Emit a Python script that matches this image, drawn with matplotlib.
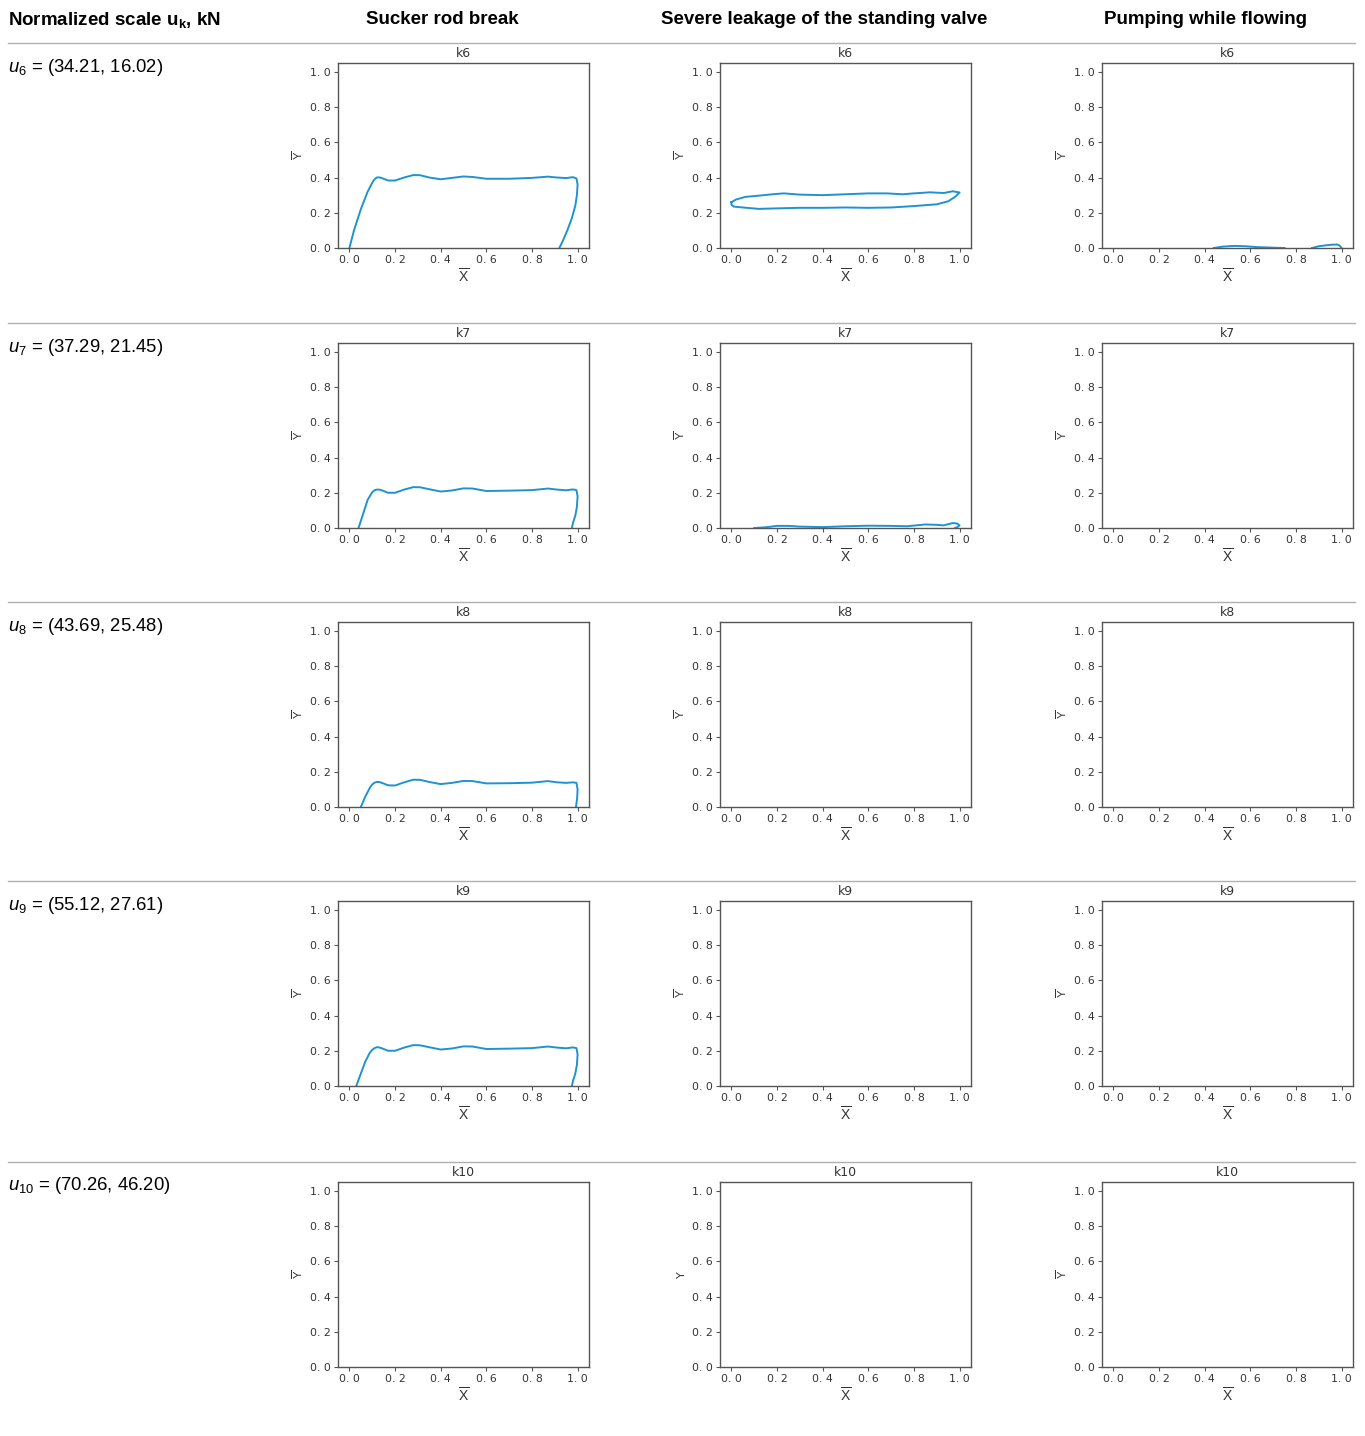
import matplotlib
matplotlib.use("Agg")
import matplotlib.pyplot as plt
from matplotlib.lines import Line2D
from matplotlib.ticker import FuncFormatter

plt.rcParams['mathtext.fontset'] = 'custom'
plt.rcParams['mathtext.rm'] = 'Liberation Sans'
plt.rcParams['mathtext.it'] = 'Liberation Sans:italic'
plt.rcParams['mathtext.bf'] = 'Liberation Sans:bold'

columns = ["Sucker rod break", "Severe leakage of the standing valve", "Pumping while flowing"]
scale_names = ["k6", "k7", "k8", "k9", "k10"]
scale_labels = [r"$u_{6}$ = (34.21, 16.02)", r"$u_{7}$ = (37.29, 21.45)",
                r"$u_{8}$ = (43.69, 25.48)", r"$u_{9}$ = (55.12, 27.61)",
                r"$u_{10}$ = (70.26, 46.20)"]
ticks = [0.0, 0.2, 0.4, 0.6, 0.8, 1.0]

# dynamometer cards, (x, y) normalised
rod_k6_x = [0.00, 0.02, 0.05, 0.08, 0.10, 0.11, 0.12, 0.13, 0.14, 0.17, 0.20, 0.24, 0.28, 0.31, 0.35,
            0.40, 0.45, 0.50, 0.54, 0.60, 0.70, 0.80, 0.87, 0.91, 0.95, 0.98, 0.995, 1.00, 0.997,
            0.99, 0.975, 0.955, 0.935, 0.92]
rod_k6_y = [0.00, 0.10, 0.22, 0.32, 0.37, 0.39, 0.40, 0.401, 0.398, 0.383, 0.383, 0.400, 0.414, 0.413,
            0.400, 0.390, 0.398, 0.406, 0.403, 0.393, 0.393, 0.398, 0.405, 0.400, 0.397, 0.402, 0.395,
            0.36, 0.30, 0.24, 0.17, 0.10, 0.04, 0.00]

rod_k7_x = [0.04, 0.06, 0.08, 0.10, 0.11, 0.12, 0.13, 0.14, 0.17, 0.20, 0.24, 0.28, 0.31, 0.35, 0.40,
            0.45, 0.50, 0.54, 0.60, 0.70, 0.80, 0.87, 0.91, 0.95, 0.98, 0.995, 1.00, 0.997, 0.99, 0.98,
            0.975]
rod_k7_y = [0.00, 0.08, 0.16, 0.203, 0.214, 0.218, 0.218, 0.215, 0.200, 0.200, 0.218, 0.232, 0.231,
            0.220, 0.207, 0.213, 0.225, 0.224, 0.210, 0.212, 0.215, 0.224, 0.218, 0.214, 0.219, 0.215,
            0.18, 0.12, 0.07, 0.03, 0.00]

rod_k8_x = [0.05, 0.07, 0.09, 0.10, 0.11, 0.12, 0.13, 0.14, 0.17, 0.20, 0.24, 0.28, 0.31, 0.35, 0.40,
            0.45, 0.50, 0.54, 0.60, 0.70, 0.80, 0.87, 0.91, 0.95, 0.98, 0.995, 1.00, 0.998, 0.993]
rod_k8_y = [0.00, 0.06, 0.11, 0.128, 0.138, 0.142, 0.142, 0.138, 0.123, 0.122, 0.140, 0.155, 0.154,
            0.142, 0.130, 0.137, 0.148, 0.147, 0.134, 0.135, 0.138, 0.147, 0.140, 0.137, 0.140, 0.137,
            0.10, 0.05, 0.00]

rod_k9_x = [0.03, 0.05, 0.07, 0.09, 0.10, 0.11, 0.12, 0.13, 0.14, 0.17, 0.20, 0.24, 0.28, 0.31, 0.35,
            0.40, 0.45, 0.50, 0.54, 0.60, 0.70, 0.80, 0.87, 0.91, 0.95, 0.98, 0.995, 1.00, 0.997, 0.99,
            0.98, 0.975]
rod_k9_y = [0.00, 0.07, 0.14, 0.19, 0.205, 0.215, 0.220, 0.219, 0.215, 0.200, 0.200, 0.218, 0.232,
            0.231, 0.220, 0.207, 0.213, 0.225, 0.224, 0.210, 0.212, 0.215, 0.224, 0.218, 0.214, 0.219,
            0.215, 0.18, 0.12, 0.07, 0.03, 0.00]

leak_k6_x = [0.00, 0.02, 0.06, 0.12, 0.18, 0.23, 0.30, 0.40, 0.50, 0.60, 0.68, 0.75, 0.80, 0.87, 0.93,
             0.97, 1.00, 0.98, 0.95, 0.90, 0.80, 0.70, 0.60, 0.50, 0.40, 0.30, 0.20, 0.12, 0.05, 0.01,
             0.00, 0.00]
leak_k6_y = [0.26, 0.275, 0.29, 0.297, 0.305, 0.310, 0.303, 0.300, 0.305, 0.310, 0.310, 0.305, 0.310,
             0.316, 0.312, 0.322, 0.315, 0.290, 0.265, 0.248, 0.238, 0.230, 0.228, 0.230, 0.228, 0.228,
             0.225, 0.222, 0.230, 0.235, 0.245, 0.26]

leak_k7_x = [0.10, 0.15, 0.20, 0.25, 0.30, 0.40, 0.50, 0.60, 0.70, 0.77, 0.85, 0.90, 0.93, 0.97, 0.99,
             1.00, 0.99, 0.98]
leak_k7_y = [0.000, 0.004, 0.012, 0.012, 0.008, 0.005, 0.010, 0.013, 0.012, 0.010, 0.020, 0.018, 0.015,
             0.028, 0.025, 0.015, 0.005, 0.000]

flow_k6_x = [0.44, 0.48, 0.53, 0.58, 0.63, 0.70, 0.75, None, 0.87, 0.90, 0.95, 0.98, 0.99, 1.00]
flow_k6_y = [0.000, 0.008, 0.012, 0.010, 0.005, 0.002, 0.000, None, 0.000, 0.010, 0.018, 0.020, 0.015, 0.000]

cards = {
    (0, 0): (rod_k6_x, rod_k6_y), (1, 0): (rod_k7_x, rod_k7_y),
    (2, 0): (rod_k8_x, rod_k8_y), (3, 0): (rod_k9_x, rod_k9_y),
    (0, 1): (leak_k6_x, leak_k6_y), (1, 1): (leak_k7_x, leak_k7_y),
    (0, 2): (flow_k6_x, flow_k6_y),
}

W, H = 1365, 1436
fig = plt.figure(figsize=(W / 100, H / 100), dpi=100)

col_left = [338, 720, 1102]
col_center = [442, 824, 1206]
row_top = [63, 343, 622, 901, 1182]
sep_y = [43, 323, 602, 881, 1162]
ax_w, ax_h = 251, 185
line_color = '#1f93d2'
frame = '#555555'

fig.text(8 / W, 1 - 20 / H, r"Normalized scale u$_{\mathbf{k}}$, kN", fontsize=13.5,
         fontweight='bold', family='Liberation Sans', va='center', ha='left')
for c, name in enumerate(columns):
    fig.text(col_center[c] / W, 1 - 20 / H, name, fontsize=13.5, fontweight='bold',
             family='Liberation Sans', va='center', ha='center')

for y in sep_y:
    fig.add_artist(Line2D([8 / W, 1355 / W], [1 - y / H, 1 - y / H], color='#b0b0b0', lw=1))

fmt = FuncFormatter(lambda v, p: f"{v:.1f}".replace(".", ". "))

for r in range(5):
    fig.text(8 / W, 1 - (row_top[r] + 4) / H, scale_labels[r], fontsize=13.3,
             family='Liberation Sans', va='center', ha='left')
    for c in range(3):
        ax = fig.add_axes([col_left[c] / W, 1 - (row_top[r] + ax_h) / H, ax_w / W, ax_h / H])
        if (r, c) in cards:
            xs, ys = cards[(r, c)]
            xs = [float('nan') if v is None else v for v in xs]
            ys = [float('nan') if v is None else v for v in ys]
            ax.plot(xs, ys, color=line_color, lw=1.4, solid_joinstyle='round')
        ax.set_xlim(-0.05, 1.05)
        ax.set_ylim(0, 1.05)
        ax.set_xticks(ticks)
        ax.set_yticks(ticks)
        ax.xaxis.set_major_formatter(fmt)
        ax.yaxis.set_major_formatter(fmt)
        ax.tick_params(labelsize=7.8, length=3, width=0.8, color=frame, labelcolor='#333333', pad=2)
        for s in ax.spines.values():
            s.set_color(frame)
            s.set_linewidth(1.0)
        ax.set_title(scale_names[r], fontsize=9, pad=4, color='#333333')
        ax.set_xlabel(r"$\overline{\mathrm{X}}$", fontsize=10, labelpad=2, color='#333333')
        ylab = "Y" if (r == 4 and c == 1) else r"$\overline{\mathrm{Y}}$"
        ax.set_ylabel(ylab, fontsize=8, labelpad=4, color='#333333')

fig.savefig("out.png", dpi=100, facecolor='white')
